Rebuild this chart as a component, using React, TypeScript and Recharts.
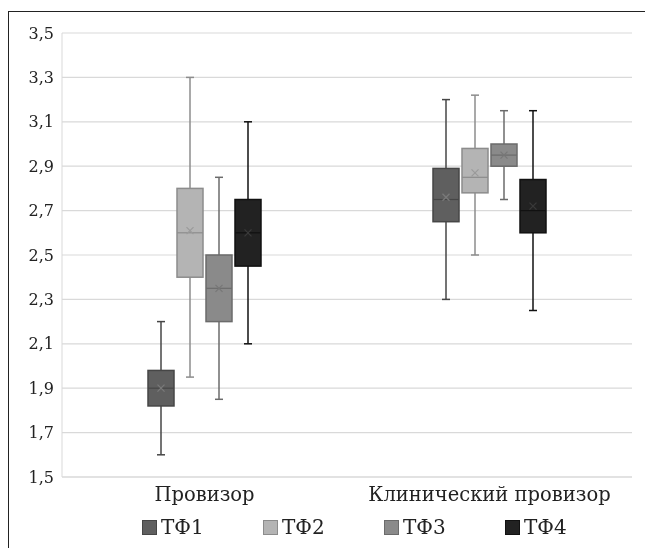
import { ComposedChart, Bar, XAxis, YAxis, CartesianGrid, Legend } from 'recharts';

const categories = ['Провизор', 'Клинический провизор'];
const seriesNames = ['ТФ1', 'ТФ2', 'ТФ3', 'ТФ4'];
const yTicks = [1.5, 1.7, 1.9, 2.1, 2.3, 2.5, 2.7, 2.9, 3.1, 3.3, 3.5];

// [series][category]
const minVals = [[1.6, 2.3], [1.95, 2.5], [1.85, 2.75], [2.1, 2.25]];
const q1Vals = [[1.82, 2.65], [2.4, 2.78], [2.2, 2.9], [2.45, 2.6]];
const medianVals = [[1.9, 2.75], [2.6, 2.85], [2.35, 2.95], [2.6, 2.7]];
const q3Vals = [[1.98, 2.89], [2.8, 2.98], [2.5, 3.0], [2.75, 2.84]];
const maxVals = [[2.2, 3.2], [3.3, 3.22], [2.85, 3.15], [3.1, 3.15]];
const meanVals = [[1.9, 2.76], [2.61, 2.87], [2.35, 2.95], [2.6, 2.72]];

const fills = ['#5f5f5f', '#b4b4b4', '#8a8a8a', '#222222'];
const strokes = ['#464646', '#8c8c8c', '#6b6b6b', '#111111'];
const meanColors = ['#7a7a7a', '#9a9a9a', '#777777', '#3a3a3a'];

const FONT = '"DejaVu Serif", serif';

const chartData = categories.map((name, ci) => {
  const row: any = { name };
  seriesNames.forEach((_, si) => {
    row['s' + si] = [minVals[si][ci], maxVals[si][ci]];
    row['st' + si] = {
      min: minVals[si][ci],
      q1: q1Vals[si][ci],
      med: medianVals[si][ci],
      q3: q3Vals[si][ci],
      max: maxVals[si][ci],
      mean: meanVals[si][ci],
    };
  });
  return row;
});

function BoxShape(props: any) {
  const { x, y, width, height, payload, si } = props;
  const st = payload['st' + si];
  if (!st || !height) return null;
  // derive the value->pixel mapping from the bar the library laid out
  const k = height / (st.max - st.min);
  const py = (v: number) => y + (st.max - v) * k;
  const cx = x + width / 2;
  const stroke = strokes[si];
  const cap = 4;
  const m = 3.5;
  const my = py(st.mean);
  return (
    <g>
      <line x1={cx} x2={cx} y1={py(st.max)} y2={py(st.q3)} stroke={stroke} strokeWidth={1.5} />
      <line x1={cx} x2={cx} y1={py(st.q1)} y2={py(st.min)} stroke={stroke} strokeWidth={1.5} />
      <line x1={cx - cap} x2={cx + cap} y1={py(st.max)} y2={py(st.max)} stroke={stroke} strokeWidth={1.5} />
      <line x1={cx - cap} x2={cx + cap} y1={py(st.min)} y2={py(st.min)} stroke={stroke} strokeWidth={1.5} />
      <rect
        x={x}
        y={py(st.q3)}
        width={width}
        height={py(st.q1) - py(st.q3)}
        fill={fills[si]}
        stroke={stroke}
        strokeWidth={1.5}
      />
      <line x1={x} x2={x + width} y1={py(st.med)} y2={py(st.med)} stroke={stroke} strokeWidth={1.2} />
      <line x1={cx - m} x2={cx + m} y1={my - m} y2={my + m} stroke={meanColors[si]} strokeWidth={1.2} />
      <line x1={cx - m} x2={cx + m} y1={my + m} y2={my - m} stroke={meanColors[si]} strokeWidth={1.2} />
    </g>
  );
}

function LegendContent() {
  return (
    <div
      style={{
        display: 'flex',
        paddingLeft: 133,
        paddingTop: 8,
        fontFamily: FONT,
        fontSize: 20,
        color: '#222',
      }}
    >
      {seriesNames.map((n, si) => (
        <div key={n} style={{ width: 121, display: 'flex', alignItems: 'center' }}>
          <span
            style={{
              display: 'inline-block',
              width: 13,
              height: 13,
              background: fills[si],
              border: '1px solid ' + strokes[si],
              marginRight: 4,
            }}
          />
          <span>{n}</span>
        </div>
      ))}
    </div>
  );
}

export default function App() {
  return (
    <div
      style={{
        position: 'fixed',
        left: 8,
        top: 11,
        width: 650,
        height: 545,
        borderTop: '1.5px solid #222',
        borderLeft: '1.5px solid #222',
        boxSizing: 'border-box',
        overflow: 'hidden',
      }}
    >
      <ComposedChart
        width={636}
        height={536}
        data={chartData}
        margin={{ top: 21, right: 13, left: 0, bottom: 0 }}
        barGap={3}
        barSize={26}
      >
        <CartesianGrid vertical={false} stroke="#d9d9d9" strokeWidth={1.2} />
        <XAxis
          dataKey="name"
          height={30}
          axisLine={{ stroke: '#d9d9d9' }}
          tickLine={false}
          tickMargin={4}
          tick={{ fontFamily: FONT, fontSize: 19.5, fill: '#222' }}
        />
        <YAxis
          width={53}
          domain={[1.5, 3.5]}
          ticks={yTicks}
          allowDataOverflow
          axisLine={{ stroke: '#d9d9d9' }}
          tickLine={false}
          tickFormatter={(v: number) => v.toFixed(1).replace('.', ',')}
          tick={{ fontFamily: FONT, fontSize: 16, fill: '#222' }}
        />
        <Legend verticalAlign="bottom" height={41} content={<LegendContent />} />
        {seriesNames.map((n, si) => (
          <Bar
            key={n}
            dataKey={'s' + si}
            name={n}
            fill={fills[si]}
            isAnimationActive={false}
            shape={(p: any) => <BoxShape {...p} si={si} />}
          />
        ))}
      </ComposedChart>
    </div>
  );
}
